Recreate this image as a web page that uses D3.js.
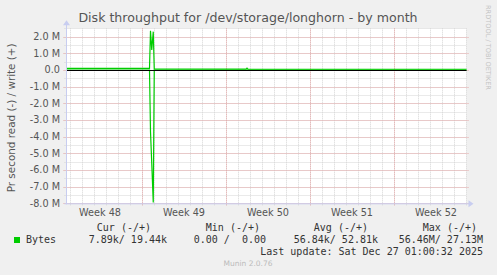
<!DOCTYPE html>
<meta charset="utf-8">
<script src="https://d3js.org/d3.v7.min.js"></script>
<style>
  body { margin: 0; background: #f0f0f0; }
  text { font-family: "DejaVu Sans", sans-serif; fill: #555; }
  .mono { font-family: "DejaVu Sans Mono", monospace; font-size: 10px; fill: #333; }
</style>
<div id="chart"></div>
<script>

// samples (bytes per second)
var times = ["2025-11-23T17:00", "2025-11-30T15:00", "2025-11-30T17:00", "2025-11-30T19:30",
             "2025-11-30T22:30", "2025-12-01T00:30", "2025-12-08T16:00", "2025-12-08T18:00",
             "2025-12-08T20:00", "2025-12-27T01:00"];
var readBytes  = [0, 0, 3700000, 5600000, 7950000, 20000, 10000, 10000, 10000, 8000];
var writeBytes = [100000, 100000, 2350000, 1200000, 2300000, 50000, 50000, 110000, 50000, 45000];

var yTicks = [2e6, 1e6, 0, -1e6, -2e6, -3e6, -4e6, -5e6, -6e6, -7e6, -8e6];
var legendHead = ["Cur (-/+)", "Min (-/+)", "Avg (-/+)", "Max (-/+)"];
var legendVals = ["7.89k/ 19.44k", "0.00 /  0.00", "56.84k/ 52.81k", "56.46M/ 27.13M"];

var W = 497, H = 275;
var pLeft = 66.5, pRight = 466.5, pTop = 28.33, pBottom = 203.33;

var parse = d3.utcParse("%Y-%m-%dT%H:%M");
var data = times.map(function (t, i) {
    return { t: parse(t), read: readBytes[i], write: writeBytes[i] };
});

var x = d3.scaleUtc()
    .domain([parse("2025-11-23T17:00"), parse("2025-12-27T01:00")])
    .range([pLeft, pRight]);
var y = d3.scaleLinear()
    .domain([-8e6, 2.5e6])
    .range([pBottom, pTop]);

var svg = d3.select("#chart").append("svg")
    .attr("width", W).attr("height", H);

svg.append("rect").attr("width", W).attr("height", H).attr("fill", "#f0f0f0");
svg.append("rect")
    .attr("x", pLeft).attr("y", pTop)
    .attr("width", pRight - pLeft).attr("height", pBottom - pTop)
    .attr("fill", "#fff");

// minor grid
var days = d3.utcDay.range(x.domain()[0], x.domain()[1]);
var weeks = d3.utcSunday.range(x.domain()[0], x.domain()[1]);
var halfM = d3.range(-8e6, 2.5e6 + 1, 5e5);

svg.append("g").selectAll("line").data(days).enter().append("line")
    .attr("x1", function (d) { return Math.round(x(d)) + 0.5; })
    .attr("x2", function (d) { return Math.round(x(d)) + 0.5; })
    .attr("y1", pTop).attr("y2", pBottom + 2)
    .attr("stroke", "#d4d4d4").attr("stroke-dasharray", "1,1");
svg.append("g").selectAll("line").data(halfM).enter().append("line")
    .attr("x1", pLeft - 2).attr("x2", pRight)
    .attr("y1", function (d) { return Math.round(y(d)) + 0.5; })
    .attr("y2", function (d) { return Math.round(y(d)) + 0.5; })
    .attr("stroke", "#d4d4d4").attr("stroke-dasharray", "1,1");

// major grid
svg.append("g").selectAll("line").data(weeks).enter().append("line")
    .attr("x1", function (d) { return Math.round(x(d)) + 0.5; })
    .attr("x2", function (d) { return Math.round(x(d)) + 0.5; })
    .attr("y1", pTop).attr("y2", pBottom + 3)
    .attr("stroke", "#e6a8a8").attr("stroke-dasharray", "1,1");
svg.append("g").selectAll("line").data(yTicks).enter().append("line")
    .attr("x1", pLeft - 3).attr("x2", pRight + 2)
    .attr("y1", function (d) { return Math.round(y(d)) + 0.5; })
    .attr("y2", function (d) { return Math.round(y(d)) + 0.5; })
    .attr("stroke", "#e6a8a8").attr("stroke-dasharray", "1,1");

// y labels
var fmtM = function (d) { return d === 0 ? "0.0" : d3.format(".1f")(d / 1e6) + " M"; };
svg.append("g").selectAll("text").data(yTicks).enter().append("text")
    .attr("x", pLeft - 6.5).attr("y", function (d) { return y(d) + 3.5; })
    .attr("text-anchor", "end").style("font-size", "9.7px")
    .text(function (d) { return fmtM(d).replace("−", "-"); });

// week labels, centred in each week
var mids = [d3.utcSunday.offset(weeks[0], -1)].concat(weeks)
    .map(function (d) { return d3.utcHour.offset(d, 84); })
    .filter(function (d) { return x(d) > pLeft && x(d) < pRight; });
svg.append("g").selectAll("text").data(mids).enter().append("text")
    .attr("x", function (d) { return x(d); })
    .attr("y", 216)
    .attr("text-anchor", "middle").style("font-size", "9.7px")
    .text(d3.utcFormat("Week %V"));

// series
var line = d3.line().x(function (d) { return x(d.t); });
var g = svg.append("g").attr("fill", "none").attr("stroke", "#00cc00").attr("stroke-width", 1.2);
g.append("path").datum(data)
    .attr("d", line.y(function (d) { return y(-d.read); }));
g.append("path").datum(data)
    .attr("d", line.y(function (d) { return y(d.write); }));

// zero line
svg.append("line")
    .attr("x1", pLeft).attr("x2", pRight)
    .attr("y1", Math.round(y(0)) + 0.5).attr("y2", Math.round(y(0)) + 0.5)
    .attr("stroke", "#000");

// axes with arrows
var axisCol = "#c8cdf0";
svg.append("line").attr("x1", pLeft).attr("x2", pLeft).attr("y1", pBottom + 1).attr("y2", pTop - 4)
    .attr("stroke", axisCol);
svg.append("path").attr("d", "M" + (pLeft - 3.5) + "," + (pTop - 3) + "L" + pLeft + "," + (pTop - 8) + "L" + (pLeft + 3.5) + "," + (pTop - 3) + "Z")
    .attr("fill", axisCol);
svg.append("line").attr("x1", pLeft - 2).attr("x2", pRight + 3).attr("y1", pBottom + 0.5).attr("y2", pBottom + 0.5)
    .attr("stroke", axisCol);
svg.append("path").attr("d", "M" + (pRight + 2) + "," + (pBottom - 3) + "L" + (pRight + 7) + "," + (pBottom + 0.5) + "L" + (pRight + 2) + "," + (pBottom + 4) + "Z")
    .attr("fill", axisCol);

// titles
svg.append("text").attr("x", 248).attr("y", 22).attr("text-anchor", "middle")
    .style("font-size", "12.6px")
    .text("Disk throughput for /dev/storage/longhorn - by month");
svg.append("text")
    .attr("transform", "translate(14.5," + ((pTop + pBottom) / 2 + 2) + ") rotate(-90)")
    .attr("text-anchor", "middle").style("font-size", "10.4px")
    .text("Pr second read (-) / write (+)");
svg.append("text")
    .attr("transform", "translate(486,5) rotate(90)")
    .attr("text-anchor", "start").style("font-size", "6.6px").style("fill", "#c4c4c4")
    .text("RRDTOOL / TOBI OETIKER");

// legend
var headEnd = [151, 260, 368, 477];
var valEnd = [167, 266, 378, 483];
svg.append("g").selectAll("text").data(legendHead).enter().append("text")
    .attr("class", "mono").attr("x", function (d, i) { return headEnd[i]; }).attr("y", 231)
    .attr("text-anchor", "end").text(function (d) { return d; });
svg.append("rect").attr("x", 14).attr("y", 237).attr("width", 6).attr("height", 6).attr("fill", "#00cc00");
svg.append("text").attr("class", "mono").attr("x", 26).attr("y", 242.5).text("Bytes");
svg.append("g").selectAll("text").data(legendVals).enter().append("text")
    .attr("class", "mono").attr("x", function (d, i) { return valEnd[i]; }).attr("y", 242.5)
    .attr("text-anchor", "end").style("white-space", "pre")
    .text(function (d) { return d; });
svg.append("text").attr("class", "mono").attr("x", 483).attr("y", 254.5)
    .attr("text-anchor", "end").text("Last update: Sat Dec 27 01:00:32 2025");
svg.append("text").attr("x", 248).attr("y", 266).attr("text-anchor", "middle")
    .style("font-size", "7.5px").style("fill", "#bbb").text("Munin 2.0.76");
</script>
